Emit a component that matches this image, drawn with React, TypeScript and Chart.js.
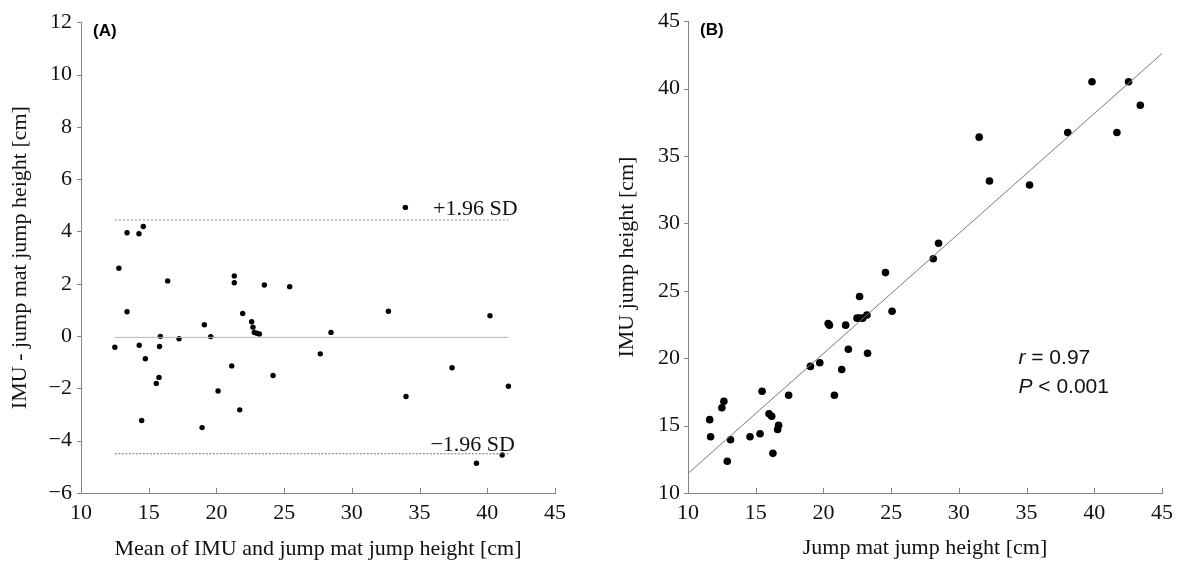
import React, { useEffect, useRef } from "react";
import { Chart, registerables } from "chart.js";

Chart.register(...registerables);

// ---------- Panel A (Bland–Altman) ----------
const MEAN_A = [12.5, 12.8, 13.4, 13.4, 14.28, 14.3, 14.48, 14.6, 14.75, 15.56, 15.76, 15.8, 15.86, 16.4, 17.24, 18.94, 19.11, 19.58, 20.12, 21.13, 21.32, 21.32, 21.72, 21.94, 22.6, 22.7, 22.8, 22.97, 23.17, 23.54, 24.18, 25.41, 27.67, 28.46, 32.7, 33.95, 34.0, 37.4, 39.2, 40.2, 41.1, 41.56];
const DIFF_A = [-0.43, 2.59, 0.93, 3.95, 3.91, -0.35, -3.23, 4.19, -0.87, -1.81, -1.58, -0.4, -0.01, 2.11, -0.1, -3.5, 0.43, -0.02, -2.1, -1.14, 2.3, 2.04, -2.82, 0.86, 0.55, 0.34, 0.14, 0.11, 0.08, 1.95, -1.51, 1.89, -0.68, 0.14, 0.95, 4.92, -2.31, -1.21, -4.86, 0.78, -4.55, -1.92];
const BIAS = -0.05;
const UPPER_LOA = 4.44;
const LOWER_LOA = -4.5;
const X_TICKS_A = [10, 15, 20, 25, 30, 35, 40, 45];
const Y_TICKS_A = [-6, -4, -2, 0, 2, 4, 6, 8, 10, 12];
const UPPER_LABEL = "+1.96 SD";
const LOWER_LABEL = "\u22121.96 SD";
const SD_LABEL_X = 36.0;

// ---------- Panel B (correlation) ----------
const MAT_B = [11.6, 11.67, 12.5, 12.65, 12.9, 13.14, 14.58, 15.32, 15.47, 15.98, 16.18, 16.27, 16.62, 16.69, 17.43, 19.04, 19.73, 20.35, 20.44, 20.81, 21.35, 21.64, 21.84, 22.48, 22.67, 22.9, 22.67, 23.21, 23.26, 24.58, 25.07, 28.11, 28.5, 31.5, 32.26, 35.22, 38.04, 39.83, 41.67, 42.53, 43.4];
const IMU_B = [15.44, 14.17, 16.32, 16.81, 12.35, 13.95, 14.17, 14.39, 17.55, 15.88, 15.69, 12.94, 14.71, 15.02, 17.25, 19.39, 19.66, 22.57, 22.45, 17.25, 19.16, 22.45, 20.66, 22.97, 22.97, 22.97, 24.58, 23.21, 20.37, 26.35, 23.48, 27.38, 28.53, 36.4, 33.14, 32.85, 36.74, 40.51, 36.74, 40.51, 38.77];
const REG_SLOPE = 0.89;
const REG_INTERCEPT = 2.55;
const X_TICKS_B = [10, 15, 20, 25, 30, 35, 40, 45];
const Y_TICKS_B = [10, 15, 20, 25, 30, 35, 40, 45];
const R_TEXT = "0.97";
const P_TEXT = "0.001";
const STAT_X = 34.4;
const R_Y = 19.55;
const P_Y = 17.42;

const SERIF = "'Liberation Serif', 'Times New Roman', serif";
const SANS = "'Liberation Sans', Arial, sans-serif";
const AXIS_COLOR = "#858585";
const TEXT_COLOR = "#111111";

function axis(
  isX: boolean,
  ticks: number[],
  title: string,
  fitSize: number,
  titlePad: number,
  tickPad: number
) {
  return {
    type: "linear",
    position: isX ? "bottom" : "left",
    min: ticks[0],
    max: ticks[ticks.length - 1],
    afterBuildTicks: (s: any) => {
      s.ticks = ticks.map((v) => ({ value: v }));
    },
    afterFit: (s: any) => {
      if (isX) s.height = fitSize;
      else s.width = fitSize;
    },
    grid: { display: false, drawTicks: false },
    border: { display: true, color: AXIS_COLOR, width: 1 },
    ticks: {
      autoSkip: false,
      maxRotation: 0,
      padding: tickPad,
      color: TEXT_COLOR,
      font: { family: SERIF, size: 22 },
      callback: (v: any) => String(v).replace("-", "\u2212"),
    },
    title: {
      display: true,
      text: title,
      color: TEXT_COLOR,
      font: { family: SERIF, size: 22 },
      padding: isX ? { top: 0, bottom: titlePad } : { top: titlePad, bottom: 0 },
    },
  };
}

const tickMarks = {
  id: "tickMarks",
  afterDraw(chart: any) {
    const { ctx } = chart;
    const xs = chart.scales.x;
    const ys = chart.scales.y;
    ctx.save();
    ctx.strokeStyle = AXIS_COLOR;
    ctx.lineWidth = 1;
    ctx.beginPath();
    xs.ticks.forEach((t: any) => {
      const px = Math.round(xs.getPixelForValue(t.value)) + 0.5;
      ctx.moveTo(px, xs.top);
      ctx.lineTo(px, xs.top - 5);
    });
    ys.ticks.forEach((t: any) => {
      const py = Math.round(ys.getPixelForValue(t.value)) + 0.5;
      ctx.moveTo(ys.right, py);
      ctx.lineTo(ys.right - 4, py);
    });
    ctx.stroke();
    ctx.restore();
  },
};

function panelLabel(text: string) {
  return {
    id: "panelLabel" + text,
    afterDraw(chart: any) {
      const { ctx, chartArea } = chart;
      ctx.save();
      ctx.fillStyle = "#000";
      ctx.font = `bold 17px ${SANS}`;
      ctx.textBaseline = "alphabetic";
      ctx.textAlign = "left";
      ctx.fillText(text, chartArea.left + 12, chartArea.top + 14);
      ctx.restore();
    },
  };
}

const sdLabels = {
  id: "sdLabels",
  afterDraw(chart: any) {
    const { ctx } = chart;
    const xs = chart.scales.x;
    const ys = chart.scales.y;
    ctx.save();
    ctx.fillStyle = TEXT_COLOR;
    ctx.font = `22px ${SERIF}`;
    ctx.textAlign = "left";
    ctx.textBaseline = "alphabetic";
    ctx.fillText(UPPER_LABEL, xs.getPixelForValue(SD_LABEL_X), ys.getPixelForValue(UPPER_LOA) - 5);
    ctx.fillText(LOWER_LABEL, xs.getPixelForValue(SD_LABEL_X - 0.2), ys.getPixelForValue(LOWER_LOA) - 3);
    ctx.restore();
  },
};

const statLabels = {
  id: "statLabels",
  afterDraw(chart: any) {
    const { ctx } = chart;
    const xs = chart.scales.x;
    const ys = chart.scales.y;
    const x0 = xs.getPixelForValue(STAT_X);
    ctx.save();
    ctx.fillStyle = TEXT_COLOR;
    ctx.textAlign = "left";
    ctx.textBaseline = "alphabetic";
    const draw = (ital: string, rest: string, yv: number) => {
      const y = ys.getPixelForValue(yv);
      ctx.font = `italic 21px ${SANS}`;
      ctx.fillText(ital, x0, y);
      const w = ctx.measureText(ital).width;
      ctx.font = `21px ${SANS}`;
      ctx.fillText(rest, x0 + w, y);
    };
    draw("r", " = " + R_TEXT, R_Y);
    draw("P", " < " + P_TEXT, P_Y);
    ctx.restore();
  },
};

function configA(): any {
  const points = MEAN_A.map((m, i) => ({ x: m, y: DIFF_A[i] }));
  const xMin = Math.min(...MEAN_A);
  const xMax = Math.max(...MEAN_A);
  const hline = (y: number) => [
    { x: xMin, y },
    { x: xMax, y },
  ];
  return {
    type: "scatter",
    data: {
      datasets: [
        { type: "line", data: hline(BIAS), borderColor: "#b5b5b5", borderWidth: 1, pointRadius: 0, fill: false },
        { type: "line", data: hline(UPPER_LOA), borderColor: "#8a8a8a", borderWidth: 1, borderDash: [2, 2], pointRadius: 0, fill: false },
        { type: "line", data: hline(LOWER_LOA), borderColor: "#6f6f6f", borderWidth: 1, borderDash: [2, 1.5], pointRadius: 0, fill: false },
        { data: points, backgroundColor: "#000", borderWidth: 0, pointRadius: 2.7 },
      ],
    },
    options: {
      responsive: false,
      animation: false,
      events: [],
      layout: { padding: { top: 18, right: 35, left: 0, bottom: 0 } },
      plugins: { legend: { display: false }, tooltip: { enabled: false } },
      scales: {
        x: axis(true, X_TICKS_A, "Mean of IMU and jump mat jump height [cm]", 72, 3, 7),
        y: axis(false, Y_TICKS_A, "IMU - jump mat jump height [cm]", 81, 7, 9),
      },
    },
    plugins: [tickMarks, panelLabel("(A)"), sdLabels],
  };
}

function configB(): any {
  const points = MAT_B.map((m, i) => ({ x: m, y: IMU_B[i] }));
  const x0 = X_TICKS_B[0];
  const x1 = X_TICKS_B[X_TICKS_B.length - 1];
  return {
    type: "scatter",
    data: {
      datasets: [
        {
          type: "line",
          data: [
            { x: x0, y: REG_INTERCEPT + REG_SLOPE * x0 },
            { x: x1, y: REG_INTERCEPT + REG_SLOPE * x1 },
          ],
          borderColor: "#7a7a7a",
          borderWidth: 1,
          pointRadius: 0,
          fill: false,
        },
        { data: points, backgroundColor: "#000", borderWidth: 0, pointRadius: 3.8 },
      ],
    },
    options: {
      responsive: false,
      animation: false,
      events: [],
      layout: { padding: { top: 17, right: 16, left: 0, bottom: 0 } },
      plugins: { legend: { display: false }, tooltip: { enabled: false } },
      scales: {
        x: axis(true, X_TICKS_B, "Jump mat jump height [cm]", 72, 4, 7),
        y: axis(false, Y_TICKS_B, "IMU jump height [cm]", 98, 24, 8),
      },
    },
    plugins: [tickMarks, panelLabel("(B)"), statLabels],
  };
}

export default function App() {
  const refA = useRef<HTMLCanvasElement>(null);
  const refB = useRef<HTMLCanvasElement>(null);

  useEffect(() => {
    const a = new Chart(refA.current as HTMLCanvasElement, configA());
    const b = new Chart(refB.current as HTMLCanvasElement, configB());
    return () => {
      a.destroy();
      b.destroy();
    };
  }, []);

  return (
    <div style={{ position: "fixed", left: 0, top: 0, width: 1180, height: 565, background: "#fff" }}>
      <canvas ref={refA} width={590} height={565} style={{ position: "absolute", left: 0, top: 0 }} />
      <canvas ref={refB} width={590} height={565} style={{ position: "absolute", left: 590, top: 0 }} />
    </div>
  );
}
